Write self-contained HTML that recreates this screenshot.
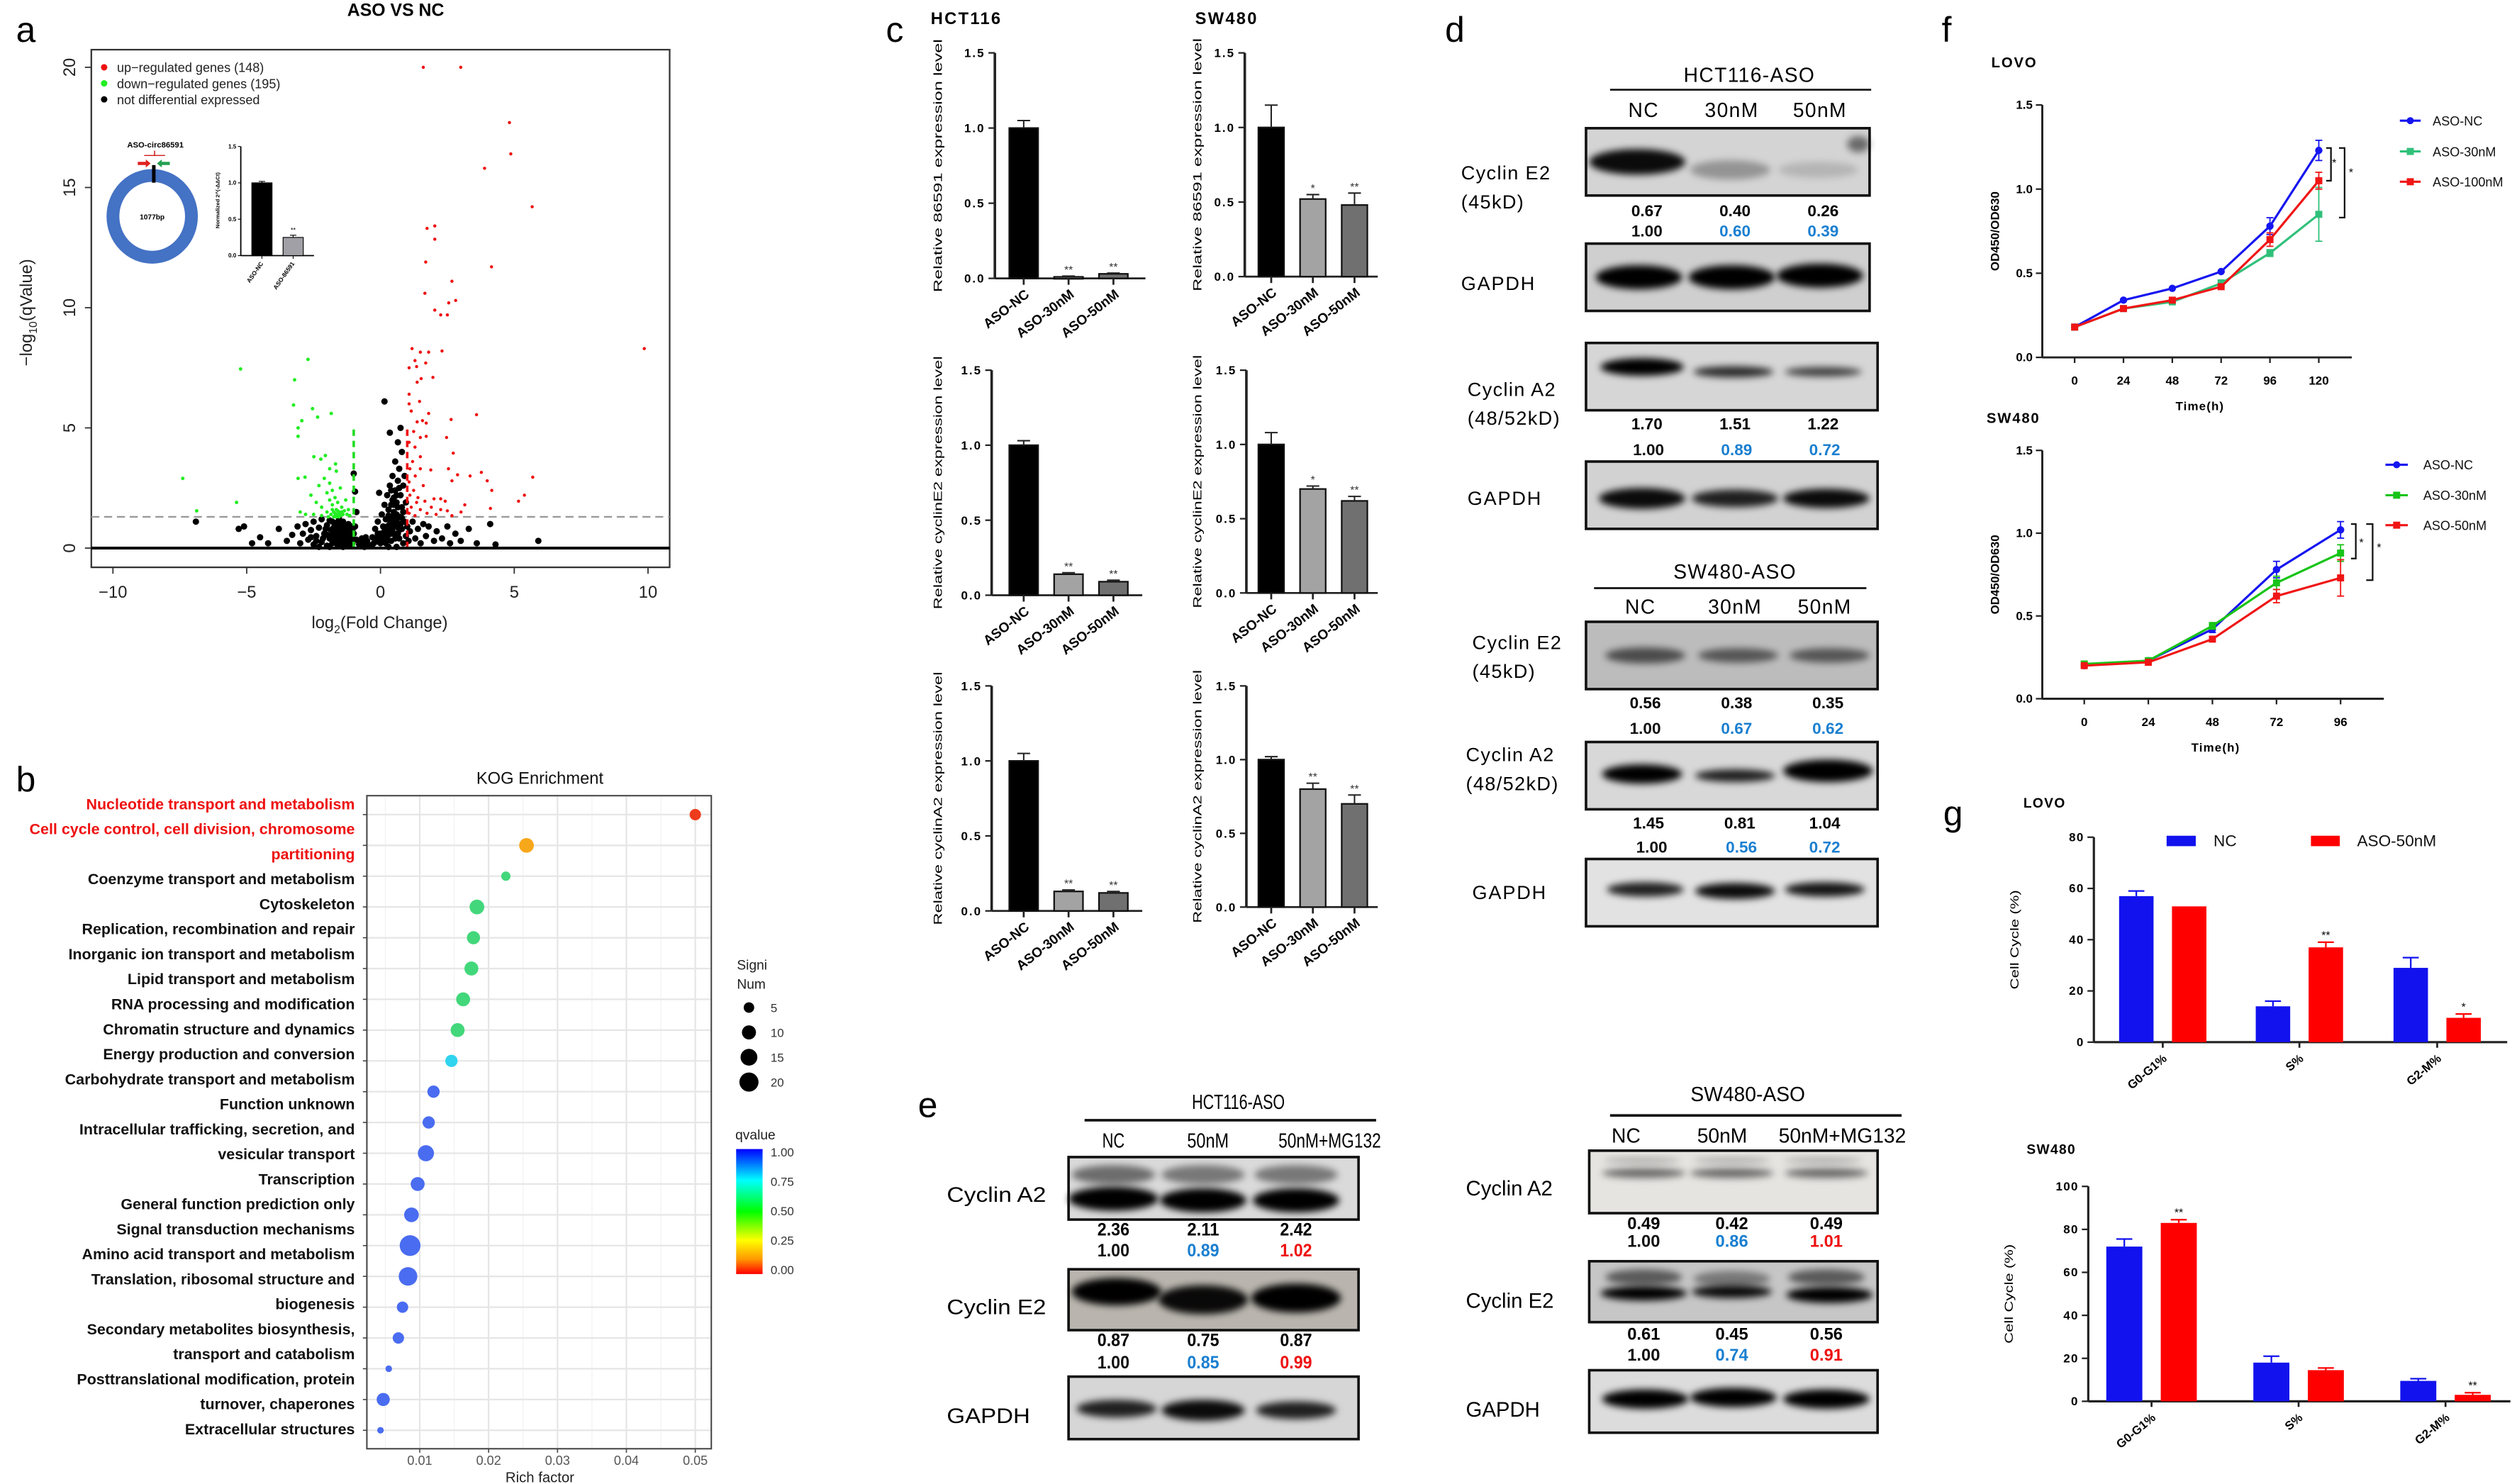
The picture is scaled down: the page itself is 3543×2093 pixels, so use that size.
<!DOCTYPE html>
<html><head><meta charset="utf-8">
<style>html,body{margin:0;padding:0;background:#fff}svg{display:block}text{font-family:"Liberation Sans",Arial,sans-serif}</style>
</head><body>
<svg id="fig" xmlns="http://www.w3.org/2000/svg" width="3543" height="2093" viewBox="0 0 1568 926" preserveAspectRatio="none">
<defs>
<filter id="blur" x="-50%" y="-80%" width="200%" height="260%"><feGaussianBlur stdDeviation="2.2"/></filter>
<linearGradient id="qgrad" x1="0" y1="1" x2="0" y2="0">
<stop offset="0" stop-color="#ff0000"/><stop offset="0.12" stop-color="#ff9900"/><stop offset="0.27" stop-color="#ffff00"/><stop offset="0.5" stop-color="#00ff00"/><stop offset="0.75" stop-color="#00ffff"/><stop offset="1" stop-color="#0000ff"/>
</linearGradient>
</defs>
<rect x="0" y="0" width="1568" height="926" fill="#fff"/>
</svg>
<script>
// ---------- DATA ----------
const volcanoXTicks=[-10,-5,0,5,10];
const volcanoYTicks=[0,5,10,15,20];
const upGenes=[[1.6,20],[3.0,20],[4.82,17.7],[4.87,16.4],[3.89,15.8],[5.67,14.2],[1.74,13.3],[2.03,13.4],[2.03,12.85],[1.69,11.9],[4.15,11.7],[2.67,11.1],[1.66,10.6],[2.81,10.3],[2.55,10.2],[2.03,9.9],[2.25,9.7],[2.5,9.7],[9.86,8.3],[1.18,8.3],[1.49,8.15],[1.8,8.15],[2.3,8.2],[1.29,7.8],[1.69,7.7],[1.07,7.5],[1.35,7.55],[1.96,7.1],[1.52,7.05],[1.37,6.9],[1.07,6.4],[1.46,6.1],[1.07,6.0],[1.15,5.7],[1.8,5.6],[3.59,5.55],[1.37,5.25],[1.57,5.3],[1.71,5.2],[2.64,5.35],[1.24,4.85],[1.49,4.6],[1.71,4.65],[2.47,4.6],[1.07,4.4],[1.29,4.2],[2.72,3.95],[1.49,3.8],[1.2,3.6],[3.77,3.15],[3.35,3.0],[2.88,3.05],[5.69,2.95],[1.49,3.3],[1.88,3.25],[2.54,3.3],[2.67,2.8],[3.99,2.8],[4.16,2.4],[5.38,2.2],[5.16,1.95],[4.11,1.65],[3.15,1.8],[1.07,2.75],[1.24,2.4],[1.4,2.1],[1.66,1.95],[2.0,2.05],[2.25,2.05],[2.42,1.95],[1.9,1.7],[2.25,1.6],[2.5,1.55],[1.15,1.7],[1.49,1.6],[1.07,1.45],[1.29,1.35],[1.74,1.45],[2.08,1.4],[2.67,1.35],[3.01,1.5],[1.1,2.2],[1.3,3.0],[1.6,2.6],[1.1,3.3],[1.35,1.9]];
const downGenes=[[-5.23,7.45],[-2.71,7.85],[-3.21,7.0],[-3.25,5.95],[-2.54,5.8],[-2.35,5.45],[-1.84,5.6],[-2.94,5.3],[-3.08,5.0],[-3.08,4.65],[-7.39,2.9],[-5.38,1.9],[-6.87,1.55],[-2.49,3.8],[-2.23,3.7],[-2.06,3.85],[-1.68,3.5],[-2.82,2.95],[-3.08,2.9],[-2.6,2.2],[-2.4,1.9],[-2.3,2.6],[-2.2,1.7],[-2.1,2.9],[-2.0,2.3],[-2.0,1.5],[-1.9,2.0],[-1.9,2.7],[-1.85,1.4],[-1.8,1.8],[-1.8,2.4],[-1.75,1.5],[-1.7,1.35],[-1.7,2.1],[-1.65,1.6],[-1.6,1.4],[-1.6,1.9],[-1.55,1.5],[-1.5,1.35],[-1.5,2.5],[-1.45,1.7],[-1.4,1.4],[-1.35,1.55],[-1.3,2.0],[-1.25,1.4],[-1.2,1.6],[-1.15,1.35],[-2.8,1.4],[-2.5,1.4],[-2.2,1.35],[-1.95,1.3],[-1.75,1.3],[-1.55,1.3],[-3.0,1.5],[-1.65,3.2],[-1.9,3.3],[-1.6,1.55],[-1.7,1.45],[-1.5,1.45],[-1.8,1.6],[-1.45,1.5],[-1.65,1.3]];
const notDiff=[[-6.9,1.1],[-5.3,0.8],[-5.1,0.9],[-4.8,0.2],[-4.5,0.45],[-4.2,0.2],[-3.8,0.8],[-3.5,0.3],[-3.3,0.55],[-3.1,0.9],[-3.0,0.2],[-2.9,0.6],[-2.8,1.0],[-2.7,0.35],[-2.6,0.75],[-2.5,0.15],[-2.5,1.1],[-2.4,0.5],[-2.3,0.85],[-2.2,0.25],[-2.2,1.2],[-2.1,0.6],[-2.0,0.95],[-2.0,0.1],[-1.9,0.4],[-1.9,1.15],[-1.85,0.75],[-1.8,0.2],[-1.75,0.55],[-1.7,1.0],[-1.7,0.3],[-1.65,0.8],[-1.6,0.1],[-1.6,0.6],[-1.55,1.2],[-1.5,0.4],[-1.5,0.9],[-1.45,0.2],[-1.4,0.7],[-1.4,1.1],[-1.35,0.45],[-1.3,0.15],[-1.3,0.9],[-1.25,0.6],[-1.2,0.3],[-1.2,1.0],[-1.15,0.75],[-1.1,0.45],[-1.05,0.2],[-1.0,0.6],[-1.0,3.1],[-0.95,2.35],[-0.9,1.5],[-0.9,0.35],[-0.8,0.15],[-0.7,0.4],[-0.6,0.2],[-0.5,0.3],[-0.4,0.1],[-0.3,0.45],[-0.25,0.2],[-0.2,0.8],[-0.15,0.4],[-0.1,1.1],[-0.05,0.25],[0,0.6],[0.05,1.4],[0.1,0.9],[0.1,0.3],[0.15,1.8],[0.2,0.5],[0.2,1.2],[0.25,2.2],[0.3,0.8],[0.3,1.6],[0.35,2.6],[0.4,0.3],[0.4,1.1],[0.45,2.0],[0.45,3.0],[0.5,0.6],[0.5,1.5],[0.55,2.4],[0.55,3.6],[0.6,0.9],[0.6,1.9],[0.65,2.8],[0.65,4.4],[0.7,0.4],[0.7,1.3],[0.7,3.3],[0.75,2.2],[0.75,5.0],[0.8,0.8],[0.8,1.7],[0.8,4.0],[0.85,2.6],[0.85,0.2],[0.9,1.1],[0.9,3.0],[0.95,0.5],[0.95,1.9],[1.0,0.9],[1.05,0.3],[1.1,0.7],[1.2,1.1],[1.3,0.4],[1.4,0.8],[1.5,0.2],[1.6,1.0],[1.7,0.5],[1.8,0.9],[2.0,0.3],[2.1,0.7],[2.3,0.4],[2.5,0.9],[2.6,0.2],[2.8,0.6],[3.0,0.3],[3.3,0.8],[3.6,0.2],[4.1,1.0],[4.3,0.15],[5.9,0.3],[0.15,6.1],[0.35,4.8],[-0.05,2.3],[-1.4,0.05],[-1.9,0.05],[-2.3,0.05],[0.3,0.05],[0.6,0.05],[-0.6,0.05],[-1.55,0.5],[-1.45,0.85],[-1.35,0.3],[-1.65,0.45],[-1.75,0.85],[-1.25,0.8],[0.25,0.35],[0.35,1.3],[0.45,0.7],[0.55,1.1],[0.15,0.7],[0.05,0.45],[-0.1,0.6],[0.65,0.6],[0.75,1.0],[0.4,1.8],[0.6,1.4],[0.5,2.1],[-1.15,0.15],[-1.6,0.35],[-1.8,1.1],[-2.0,0.55],[-1.3,0.55],[-1.1,0.9],[-1.5,0.65],[-1.45,1.0],[-1.6,0.8],[-1.7,0.65],[-1.35,0.75],[-1.25,0.35],[-1.2,0.55],[-1.55,0.25],[-1.4,0.5],[-1.65,1.05],[-1.85,0.5],[-2.05,0.8],[-2.15,0.4],[-1.05,0.75],[-1.0,0.35],[-0.95,0.9],[0.3,0.55],[0.4,0.6],[0.5,0.9],[0.6,1.15],[0.35,1.0],[0.45,1.3],[0.25,0.9],[0.55,0.4],[0.65,1.7],[0.7,2.5],[0.5,1.8],[0.4,2.4],[0.6,2.2],[0.3,1.35],[0.2,0.2],[0.7,0.75],[0.8,1.25],[0.85,1.5],[-0.3,0.15],[-0.75,0.25],[-0.55,0.45],[0.0,0.2],[-2.4,0.3],[-2.6,0.45]];
const insetGroups=['ASO-NC','ASO-86591'];
const insetValues=[1.0,0.25];
const insetErr=[0.02,0.03];

const kogLabels=['Nucleotide transport and metabolism','Cell cycle control, cell division, chromosome','partitioning','Coenzyme transport and metabolism','Cytoskeleton','Replication, recombination and repair','Inorganic ion transport and metabolism','Lipid transport and metabolism','RNA processing and modification','Chromatin structure and dynamics','Energy production and conversion','Carbohydrate transport and metabolism','Function unknown','Intracellular trafficking, secretion, and','vesicular transport','Transcription','General function prediction only','Signal transduction mechanisms','Amino acid transport and metabolism','Translation, ribosomal structure and','biogenesis','Secondary metabolites biosynthesis,','transport and catabolism','Posttranslational modification, protein','turnover, chaperones','Extracellular structures'];
const kogRich=[0.050,0.0255,0.0225,0.0183,0.0178,0.0175,0.0163,0.0155,0.0146,0.0120,0.0113,0.0109,0.0097,0.0088,0.0086,0.0083,0.0075,0.0069,0.0055,0.0047,0.0043];
const kogCount=[6,10,4,10,8,9,9,9,7,7,7,12,9,10,20,16,6,6,2,8,2];
const kogQ=[0.0,0.2,0.55,0.55,0.55,0.55,0.55,0.55,0.72,0.95,0.95,0.95,0.95,0.95,0.95,0.95,0.95,0.95,0.95,0.95,0.95];
const kogXTicks=[0.01,0.02,0.03,0.04,0.05];
const kogSizeLegend=[5,10,15,20];
const kogQTicks=[1.00,0.75,0.50,0.25,0.00];

const qpcrGroups=['ASO-NC','ASO-30nM','ASO-50nM'];
const qpcrTicks=[0,0.5,1.0,1.5];
const hct86591=[1.0,0.01,0.03], hct86591Err=[0.05,0.005,0.005], hct86591Sig=['','**','**'];
const hctE2=[1.0,0.14,0.09], hctE2Err=[0.03,0.01,0.01], hctE2Sig=['','**','**'];
const hctA2=[1.0,0.13,0.12], hctA2Err=[0.05,0.01,0.01], hctA2Sig=['','**','**'];
const sw86591=[1.0,0.52,0.48], sw86591Err=[0.15,0.03,0.08], sw86591Sig=['','*','**'];
const swE2=[1.0,0.70,0.62], swE2Err=[0.08,0.02,0.03], swE2Sig=['','*','**'];
const swA2=[1.0,0.80,0.70], swA2Err=[0.02,0.04,0.06], swA2Sig=['','**','**'];

const lovoTimes=[0,24,48,72,96,120];
const lovoNC=[0.18,0.34,0.41,0.51,0.78,1.23], lovoNCErr=[0.01,0.01,0.01,0.01,0.05,0.06];
const lovo30=[0.18,0.29,0.33,0.44,0.62,0.85], lovo30Err=[0.01,0.01,0.01,0.02,0.02,0.16];
const lovo100=[0.18,0.29,0.34,0.42,0.70,1.05], lovo100Err=[0.01,0.01,0.01,0.01,0.04,0.05];
const swTimes=[0,24,48,72,96];
const swNC=[0.20,0.23,0.42,0.78,1.02], swNCErr=[0.01,0.01,0.02,0.05,0.05];
const sw30=[0.21,0.23,0.44,0.70,0.88], sw30Err=[0.01,0.01,0.02,0.04,0.05];
const sw50=[0.20,0.22,0.36,0.62,0.73], sw50Err=[0.01,0.01,0.01,0.04,0.11];
const odTicks=[0,0.5,1.0,1.5];

const ccPhases=['G0-G1%','S%','G2-M%'];
const lovoCcNC=[57,14,29], lovoCcNCErr=[2,2,4];
const lovoCcASO=[53,37,9.5], lovoCcASOErr=[0,2,1.5], lovoCcSig=['','**','*'];
const swCcNC=[72,18,9.5], swCcNCErr=[3.5,3,1];
const swCcASO=[83,14.5,3], swCcASOErr=[1.5,1,1], swCcSig=['**','','**'];
const lovoCcTicks=[0,20,40,60,80];
const swCcTicks=[0,20,40,60,80,100];

// ---------- HELPERS ----------
const NS='http://www.w3.org/2000/svg';
const svg=document.getElementById('fig');
function el(tag,parent){const e=document.createElementNS(NS,tag);(parent||svg).appendChild(e);return e;}
function set(e,o){for(const k in o)e.setAttribute(k,o[k]);return e;}
function grp(name,parent){const g=el('g',parent);


return g;}
function T(parent,name,s,x,y,size,o){const e=el('text',parent);set(e,{x:x,y:y,'font-size':size});if(o)set(e,o);e.textContent=s;


return e;}
function L(parent,x1,y1,x2,y2,stroke,w,extra){const e=el('line',parent);set(e,{x1:x1,y1:y1,x2:x2,y2:y2,stroke:stroke,'stroke-width':w});if(extra)set(e,extra);return e;}
function R(parent,x,y,w,h,fill,extra){const e=el('rect',parent);set(e,{x:x,y:y,width:w,height:h,fill:fill});if(extra)set(e,extra);return e;}

[['a',10,26],['b',10,494],['c',553,26],['d',902,26],['e',573,697],['f',1212,26],['g',1213,515]].forEach(p=>{
 T(svg,'panel-label-'+p[0],p[0],p[1],p[2],22,{'font-family':'Liberation Serif, serif'});
});

// ---------- PANEL A: volcano ----------
(function(){
const g=grp('volcano-plot');
const vx=v=>237.5+16.7*v, vy=v=>342-15*v;
T(g,'volcano-title','ASO VS NC',247,10,11,{'font-weight':'bold','text-anchor':'middle'});
const box=R(g,57,31,361,323,'none',{stroke:'#333','stroke-width':1});

volcanoXTicks.forEach(v=>{L(g,vx(v),354,vx(v),358,'#333',0.8);T(g,'x-tick-label',String(v).replace('-','−'),vx(v),373,10.5,{'text-anchor':'middle',fill:'#222'});});
volcanoYTicks.forEach(v=>{L(g,53,vy(v),57,vy(v),'#333',0.8);T(g,'y-tick-label',String(v),46,vy(v)+1,10.5,{'text-anchor':'middle',transform:`rotate(-90 46 ${vy(v)})`,fill:'#222'});});
const yt=T(g,'y-axis-title','',20,195,10.5,{'text-anchor':'middle',transform:'rotate(-90 20 195)',fill:'#222'});
const s1=el('tspan',yt);s1.textContent='−log';const s2=el('tspan',yt);set(s2,{'font-size':7,dy:3});s2.textContent='10';const s3=el('tspan',yt);set(s3,{dy:-3});s3.textContent='(qValue)';
const xt=T(g,'x-axis-title','',237,392,10.5,{'text-anchor':'middle',fill:'#222'});
const a1=el('tspan',xt);a1.textContent='log';const a2=el('tspan',xt);set(a2,{'font-size':7,dy:3});a2.textContent='2';const a3=el('tspan',xt);set(a3,{dy:-3});a3.textContent='(Fold Change)';
L(g,57,vy(1.3),418,vy(1.3),'#999',1,{'stroke-dasharray':'5,3'});
notDiff.forEach(p=>{const c=el('circle',g);set(c,{cx:vx(p[0]),cy:vy(p[1]),r:2.0,fill:'#000'});

});
downGenes.forEach(p=>{const c=el('circle',g);set(c,{cx:vx(p[0]),cy:vy(p[1]),r:1.1,fill:'#22ee22'});

});
upGenes.forEach(p=>{const c=el('circle',g);set(c,{cx:vx(p[0]),cy:vy(p[1]),r:1.0,fill:'#ee1111'});

});
L(g,vx(-1),vy(0),vx(-1),vy(5),'#22dd22',1.6,{'stroke-dasharray':'4,3'});
L(g,vx(1),vy(0),vx(1),vy(5),'#ee1111',1.6,{'stroke-dasharray':'4,3'});
L(g,57,vy(0),418,vy(0),'#000',1.8);
const lg=grp('volcano-legend',g);
[['#ee1111','up−regulated genes (148)'],['#22ee22','down−regulated genes (195)'],['#000','not differential expressed']].forEach((d,i)=>{
 const c=el('circle',lg);set(c,{cx:65,cy:42+i*10,r:2,fill:d[0]});
 T(lg,'legend-entry',d[1],73,45+i*10,8,{fill:'#222'});
});
const ic=grp('circrna-diagram',g);
T(ic,'circ-name','ASO-circ86591',97,92,5,{'font-weight':'bold','text-anchor':'middle'});
const ring=el('ellipse',ic);set(ring,{cx:95,cy:135,rx:24.5,ry:25.5,fill:'#fff',stroke:'#4472c4','stroke-width':8});
L(ic,96,103,96,114,'#000',2.2);
L(ic,90,97,103,97,'#c00',0.6);L(ic,96.5,94,96.5,97,'#c00',0.6);
const ar=el('path',ic);set(ar,{d:'M86,101 h5 v-1.5 l3,2.5 l-3,2.5 v-1.5 h-5z',fill:'#e02020'});
const ag=el('path',ic);set(ag,{d:'M106,101 h-5 v-1.5 l-3,2.5 l3,2.5 v-1.5 h5z',fill:'#22a050'});
T(ic,'circ-length','1077bp',95,137,4.5,{'font-weight':'bold','text-anchor':'middle'});
const ib=grp('inset-bar-chart',g);
const iy=v=>159.5-45.4*v;
L(ib,150.3,iy(1.5),150.3,iy(0),'#000',0.8);L(ib,150.3,iy(0),196,iy(0),'#000',0.8);
[0,0.5,1.0,1.5].forEach(v=>{L(ib,148.5,iy(v),150.3,iy(v),'#000',0.5);T(ib,'inset-tick',v.toFixed(1),147.5,iy(v)+1.2,3.6,{'text-anchor':'end','font-weight':'bold'});});
T(ib,'inset-y-title','Normalized 2^(-ΔΔCt)',137,125,3.4,{'text-anchor':'middle',transform:'rotate(-90 137 125)','font-weight':'bold'});
const icx=[163.5,183];const icol=['#000','#a0a0a6'];
insetValues.forEach((v,i)=>{const b=R(ib,icx[i]-6.3,iy(v),12.6,iy(0)-iy(v),icol[i],{stroke:'#000','stroke-width':0.5});


L(ib,icx[i],iy(v),icx[i],iy(v+insetErr[i]),'#000',0.5);L(ib,icx[i]-2,iy(v+insetErr[i]),icx[i]+2,iy(v+insetErr[i]),'#000',0.5);
L(ib,icx[i],iy(0),icx[i],iy(0)+2,'#000',0.5);
T(ib,'inset-x-label',insetGroups[i],icx[i]+1,iy(0)+5,3.8,{'text-anchor':'end','font-weight':'bold',transform:`rotate(-55 ${icx[i]+1} ${iy(0)+5})`});
});
T(ib,'inset-significance','**',183,iy(0.3)-1,4,{'text-anchor':'middle'});
})();

// ---------- PANEL B: KOG ----------
(function(){
const g=grp('kog-enrichment-plot');
const kx=v=>219+4300*v, ky=i=>508.3+i*19.21;
const x0=229,x1=444,y0=496.5,y1=904;
T(g,'kog-title','KOG Enrichment',337,489,10.5,{'text-anchor':'middle',fill:'#111'});
R(g,x0,y0,x1-x0,y1-y0,'#fff');
[0.005,0.015,0.025,0.035,0.045].forEach(v=>L(g,kx(v),y0,kx(v),y1,'#f3f3f3',0.6));
kogXTicks.forEach(v=>L(g,kx(v),y0,kx(v),y1,'#e6e6e6',1));
kogRich.forEach((v,i)=>L(g,x0,ky(i),x1,ky(i),'#e6e6e6',1));
R(g,x0,y0,x1-x0,y1-y0,'none',{stroke:'#444','stroke-width':0.9});
kogXTicks.forEach(v=>{L(g,kx(v),y1,kx(v),y1+2.5,'#444',0.7);T(g,'kog-x-tick',String(v),kx(v),914,8,{'text-anchor':'middle',fill:'#555'});});
kogRich.forEach((v,i)=>L(g,x0-2.5,ky(i),x0,ky(i),'#444',0.7));
T(g,'kog-x-title','Rich factor',337,925,9,{'text-anchor':'middle',fill:'#222'});
kogLabels.forEach((s,i)=>{T(g,'kog-category-label',s,221.5,505+i*15.6,9.5,{'text-anchor':'end','font-weight':'bold',fill:i<3?'#ee1111':'#111'});});
const stops=[[0,[238,59,28]],[0.2,[247,167,26]],[0.55,[66,215,122]],[0.72,[47,212,238]],[0.95,[74,108,240]],[1,[60,80,240]]];
function qcol(q){for(let k=0;k<stops.length-1;k++){const a=stops[k],b=stops[k+1];if(q<=b[0]){const t=(q-a[0])/(b[0]-a[0]);return 'rgb('+a[1].map((c,j)=>Math.round(c+(b[1][j]-c)*t)).join(',')+')';}}return 'rgb(60,80,240)';}
kogRich.forEach((v,i)=>{const c=el('circle',g);set(c,{cx:kx(v),cy:ky(i),r:1.45*Math.sqrt(kogCount[i]),fill:qcol(kogQ[i])});

});
const lg=grp('kog-size-legend',g);
T(lg,'size-legend-title','Signi',460,605,8.5,{fill:'#222'});T(lg,'size-legend-title','Num',460,617,8.5,{fill:'#222'});
kogSizeLegend.forEach((n,i)=>{const c=el('circle',lg);set(c,{cx:467.5,cy:628.7+i*15.5,r:1.2*Math.sqrt(n)+0.6,fill:'#000'});T(lg,'size-legend-label',String(n),481,631.5+i*15.5,7.5,{fill:'#333'});});
const cg=grp('kog-color-legend',g);
T(cg,'qvalue-title','qvalue',459,711,8.5,{fill:'#222'});
R(cg,459.5,717,16.5,78,'url(#qgrad)');
kogQTicks.forEach((q,i)=>{T(cg,'qvalue-tick',q.toFixed(2),481,721.5+i*18.4,7.5,{fill:'#333'});});
})();

// ---------- PANEL C: qPCR bars ----------
function qpcr(name,ax,xEnd,y15,y0,centers,vals,errs,sig,ytitle,titleX,bw){
 const g=grp(name);
 const ys=v=>y0-(y0-y15)*v/1.5;
 L(g,ax,y15,ax,y0,'#222',1.6);L(g,ax,y0,xEnd,y0,'#222',1.2);
 qpcrTicks.forEach(v=>{L(g,ax-4,ys(v),ax,ys(v),'#222',1);T(g,'y-tick-label',v.toFixed(1),ax-6,ys(v)+2.7,7.5,{'text-anchor':'end','font-weight':'bold','letter-spacing':'0.9'});});
 T(g,'y-axis-title',ytitle,titleX,(y15+y0)/2,7.2,{'text-anchor':'middle',transform:`rotate(-90 ${titleX} ${(y15+y0)/2})`,textLength:158,lengthAdjust:'spacingAndGlyphs'});
 const cols=['#000','#a3a3a3','#707070'];
 vals.forEach((v,i)=>{
  const b=R(g,centers[i]-bw/2,ys(v),bw,Math.max(ys(0)-ys(v),1.2),cols[i],{stroke:'#111','stroke-width':1});
  
  
  const et=ys(v+errs[i]);L(g,centers[i],ys(v),centers[i],et,'#222',0.9);L(g,centers[i]-4,et,centers[i]+4,et,'#222',0.9);
  if(sig[i])T(g,'significance',sig[i],centers[i],et-1.5,7,{'text-anchor':'middle',fill:'#333'});
  L(g,centers[i],y0,centers[i],y0+4,'#222',1.2);
  T(g,'x-tick-label',qpcrGroups[i],centers[i]+4,y0+11,8.5,{'text-anchor':'end','font-weight':'bold',transform:`rotate(-38 ${centers[i]+4} ${y0+11})`});
 });
}
T(svg,'hct116-title','HCT116',581,15,10.5,{'font-weight':'bold','letter-spacing':'1'});
T(svg,'sw480-title','SW480',746,15,10.5,{'font-weight':'bold','letter-spacing':'1'});
const hc=[639,667,695], sc=[793.5,819.5,845.5];
qpcr('hct116-86591-bars',621,715,33,173.7,hc,hct86591,hct86591Err,hct86591Sig,'Relative 86591 expression level',588,18);
qpcr('hct116-cyclinE2-bars',619,713,231,371.4,hc,hctE2,hctE2Err,hctE2Sig,'Relative cyclinE2 expression level',588,18);
qpcr('hct116-cyclinA2-bars',619,713,428,568.4,hc,hctA2,hctA2Err,hctA2Sig,'Relative cyclinA2 expression level',588,18);
qpcr('sw480-86591-bars',777,860,33,172.6,sc,sw86591,sw86591Err,sw86591Sig,'Relative 86591 expression level',750,16);
qpcr('sw480-cyclinE2-bars',778,860,231,370,sc,swE2,swE2Err,swE2Sig,'Relative cyclinE2 expression level',750,16);
qpcr('sw480-cyclinA2-bars',778,860,428,566,sc,swA2,swA2Err,swA2Sig,'Relative cyclinA2 expression level',750,16);

// ---------- BLOTS ----------
function blot(parent,name,x,y,w,h,bg,bands){
 const g=grp(name,parent);
 R(g,x,y,w,h,bg);
 bands.forEach(b=>{const e=el('ellipse',g);set(e,{cx:b[0],cy:b[1],rx:b[2]/2,ry:b[3]/2,fill:'#000','fill-opacity':b[4],filter:'url(#blur)'});});
 R(g,x,y,w,h,'none',{stroke:'#111','stroke-width':1.6});
 return g;
}
(function(){
const g=grp('western-blot-panel-d');
const cx=[1026,1081,1136];
T(g,'blot-group-title','HCT116-ASO',1092,51,12.5,{'text-anchor':'middle','letter-spacing':'0.6'});
L(g,1005,56,1168,56,'#111',1.2);
['NC','30nM','50nM'].forEach((s,i)=>T(g,'lane-label',s,cx[i],73,12.5,{'text-anchor':'middle','letter-spacing':'0.6'}));
blot(g,'hct116-cyclinE2-blot',990,80,177,42,'#d4d4d4',[[1022,101,60,16,0.95],[1080,106,50,12,0.3],[1135,106,50,10,0.15],[1160,90,14,10,0.5]]);
T(g,'protein-label','Cyclin E2',912,112,12,{'letter-spacing':'0.6'});T(g,'protein-size','(45kD)',912,130,12,{'letter-spacing':'0.6'});
['0.67','0.40','0.26'].forEach((s,i)=>T(g,'band-intensity',s,cx[i]+2,135,10,{'text-anchor':'middle','font-weight':'bold'}));
['1.00','0.60','0.39'].forEach((s,i)=>T(g,'relative-intensity',s,cx[i]+2,147.5,10,{'text-anchor':'middle','font-weight':'bold',fill:i?'#1a7fd0':'#111'}));
blot(g,'hct116-gapdh-blot-1',990,152,177,42,'#cfcfcf',[[1023,173,54,15,1],[1081,173,54,15,1],[1136,172,54,15,1]]);
T(g,'protein-label','GAPDH',912,181,12,{'letter-spacing':'0.8'});
blot(g,'hct116-cyclinA2-blot',990,214,182,42,'#d6d6d6',[[1025,229,52,11,1],[1082,232,50,7,0.8],[1138,232,48,6,0.7]]);
T(g,'protein-label','Cyclin A2',916,247,12,{'letter-spacing':'0.6'});T(g,'protein-size','(48/52kD)',916,265,12,{'letter-spacing':'0.6'});
['1.70','1.51','1.22'].forEach((s,i)=>T(g,'band-intensity',s,cx[i]+2,268,10,{'text-anchor':'middle','font-weight':'bold'}));
['1.00','0.89','0.72'].forEach((s,i)=>T(g,'relative-intensity',s,cx[i]+3,284,10,{'text-anchor':'middle','font-weight':'bold',fill:i?'#1a7fd0':'#111'}));
blot(g,'hct116-gapdh-blot-2',990,288,182,42,'#d2d2d2',[[1025,311,54,13,0.95],[1083,311,54,11,0.85],[1140,311,54,12,0.95]]);
T(g,'protein-label','GAPDH',916,315,12,{'letter-spacing':'0.8'});
T(g,'blot-group-title','SW480-ASO',1083,361,12.5,{'text-anchor':'middle','letter-spacing':'0.6'});
L(g,995,367,1165,367,'#111',1.2);
['NC','30nM','50nM'].forEach((s,i)=>T(g,'lane-label',s,[1024,1083,1139][i],383,12.5,{'text-anchor':'middle','letter-spacing':'0.6'}));
blot(g,'sw480-cyclinE2-blot',990,388,182,42,'#bcbcbc',[[1027,409,50,10,0.6],[1085,409,50,9,0.55],[1142,409,50,9,0.55]]);
T(g,'protein-label','Cyclin E2',919,405,12,{'letter-spacing':'0.6'});T(g,'protein-size','(45kD)',919,423,12,{'letter-spacing':'0.6'});
['0.56','0.38','0.35'].forEach((s,i)=>T(g,'band-intensity',s,[1027,1084,1141][i],442,10,{'text-anchor':'middle','font-weight':'bold'}));
['1.00','0.67','0.62'].forEach((s,i)=>T(g,'relative-intensity',s,[1027,1084,1141][i],458,10,{'text-anchor':'middle','font-weight':'bold',fill:i?'#1a7fd0':'#111'}));
blot(g,'sw480-cyclinA2-blot',990,463,182,42,'#d8d8d8',[[1025,483,50,12,1],[1083,484,50,8,0.85],[1141,481,56,14,1]]);
T(g,'protein-label','Cyclin A2',915,475,12,{'letter-spacing':'0.6'});T(g,'protein-size','(48/52kD)',915,493,12,{'letter-spacing':'0.6'});
['1.45','0.81','1.04'].forEach((s,i)=>T(g,'band-intensity',s,[1029,1086,1139][i],517,10,{'text-anchor':'middle','font-weight':'bold'}));
['1.00','0.56','0.72'].forEach((s,i)=>T(g,'relative-intensity',s,[1031,1087,1139][i],532,10,{'text-anchor':'middle','font-weight':'bold',fill:i?'#1a7fd0':'#111'}));
blot(g,'sw480-gapdh-blot',990,536,182,42,'#e2e2e2',[[1027,555,48,9,0.85],[1083,556,50,10,0.95],[1139,555,50,9,0.9]]);
T(g,'protein-label','GAPDH',919,561,12,{'letter-spacing':'0.8'});
})();
(function(){
const g=grp('western-blot-panel-e');
const cx=[695,751,809];
T(g,'blot-group-title','HCT116-ASO',773,692,12.5,{'text-anchor':'middle',textLength:58,lengthAdjust:'spacingAndGlyphs'});
L(g,677,699,859,699,'#111',1.6);
T(g,'lane-label','NC',695,716,12.5,{'text-anchor':'middle',textLength:14,lengthAdjust:'spacingAndGlyphs'});
T(g,'lane-label','50nM',754,716,12.5,{'text-anchor':'middle',textLength:26,lengthAdjust:'spacingAndGlyphs'});
T(g,'lane-label','50nM+MG132',830,716,12.5,{'text-anchor':'middle',textLength:64,lengthAdjust:'spacingAndGlyphs'});
blot(g,'hct116-cyclinA2-mg132-blot',667,722,181,39,'#dadada',[[695,733,52,12,0.5],[751,733,52,12,0.45],[809,733,52,12,0.45],[695,748,56,15,1],[751,749,54,15,1],[809,749,54,15,1]]);
T(g,'protein-label','Cyclin A2',591,750,13,{textLength:62,lengthAdjust:'spacingAndGlyphs'});
['2.36','2.11','2.42'].forEach((s,i)=>T(g,'band-intensity',s,cx[i],771,11,{'text-anchor':'middle','font-weight':'bold',textLength:20,lengthAdjust:'spacingAndGlyphs'}));
['1.00','0.89','1.02'].forEach((s,i)=>T(g,'relative-intensity',s,cx[i],784,11,{'text-anchor':'middle','font-weight':'bold',fill:['#111','#1a7fd0','#ee1111'][i],textLength:20,lengthAdjust:'spacingAndGlyphs'}));
blot(g,'hct116-cyclinE2-mg132-blot',667,792,181,38,'#b9b5ae',[[697,806,56,17,1],[751,811,56,18,0.95],[809,810,56,18,1]]);
T(g,'protein-label','Cyclin E2',591,820,13,{textLength:62,lengthAdjust:'spacingAndGlyphs'});
['0.87','0.75','0.87'].forEach((s,i)=>T(g,'band-intensity',s,cx[i],840,11,{'text-anchor':'middle','font-weight':'bold',textLength:20,lengthAdjust:'spacingAndGlyphs'}));
['1.00','0.85','0.99'].forEach((s,i)=>T(g,'relative-intensity',s,cx[i],854,11,{'text-anchor':'middle','font-weight':'bold',fill:['#111','#1a7fd0','#ee1111'][i],textLength:20,lengthAdjust:'spacingAndGlyphs'}));
blot(g,'hct116-gapdh-mg132-blot',667,859,181,39,'#d6d6d6',[[697,879,50,11,0.85],[751,880,52,13,0.95],[809,880,50,11,0.85]]);
T(g,'protein-label','GAPDH',591,888,13,{textLength:52,lengthAdjust:'spacingAndGlyphs'});
const rx=[1026,1081,1140];
T(g,'blot-group-title','SW480-ASO',1091,687,12.5,{'text-anchor':'middle'});
L(g,1005,696,1187,696,'#111',1.6);
['NC','50nM','50nM+MG132'].forEach((s,i)=>T(g,'lane-label',s,[1015,1075,1150][i],713,12.5,{'text-anchor':'middle'}));
blot(g,'sw480-cyclinA2-mg132-blot',992,718,180,39,'#e6e4e1',[[1025,724,48,3,0.3],[1081,724,48,3,0.3],[1138,724,48,3,0.3],[1026,732,52,6,0.55],[1081,732,52,6,0.55],[1140,732,52,6,0.55]]);
T(g,'protein-label','Cyclin A2',915,746,13);
['0.49','0.42','0.49'].forEach((s,i)=>T(g,'band-intensity',s,rx[i],767,10.5,{'text-anchor':'middle','font-weight':'bold'}));
['1.00','0.86','1.01'].forEach((s,i)=>T(g,'relative-intensity',s,rx[i],778,10.5,{'text-anchor':'middle','font-weight':'bold',fill:['#111','#1a7fd0','#ee1111'][i]}));
blot(g,'sw480-cyclinE2-mg132-blot',992,787,180,38,'#c6c6c6',[[1026,797,48,10,0.55],[1081,798,48,10,0.4],[1140,797,48,10,0.55],[1026,807,54,9,1],[1081,806,50,8,0.95],[1142,808,54,10,1]]);
T(g,'protein-label','Cyclin E2',915,816,13);
['0.61','0.45','0.56'].forEach((s,i)=>T(g,'band-intensity',s,rx[i],836,10.5,{'text-anchor':'middle','font-weight':'bold'}));
['1.00','0.74','0.91'].forEach((s,i)=>T(g,'relative-intensity',s,rx[i],849,10.5,{'text-anchor':'middle','font-weight':'bold',fill:['#111','#1a7fd0','#ee1111'][i]}));
blot(g,'sw480-gapdh-mg132-blot',992,855,180,39,'#dcdcdc',[[1027,873,54,12,1],[1082,872,54,12,1],[1140,873,54,12,1]]);
T(g,'protein-label','GAPDH',915,884,13);
})();

// ---------- PANEL F: growth curves ----------
function growth(name,title,tx,ty,times,series,fx,fy,ax,xEnd,legendX,legendY,textX,brackets){
 const g=grp(name);
 T(g,'growth-title',title,tx,ty,9,{'font-weight':'bold','letter-spacing':'0.8'});
 L(g,ax,fy(1.5),ax,fy(0),'#222',1.3);L(g,ax,fy(0),xEnd,fy(0),'#222',1.3);
 odTicks.forEach(v=>{L(g,ax-4,fy(v),ax,fy(v),'#222',1);T(g,'y-tick-label',v.toFixed(1),ax-6,fy(v)+2.5,7.5,{'text-anchor':'end','font-weight':'bold'});});
 times.forEach(t=>{L(g,fx(t),fy(0),fx(t),fy(0)+3.5,'#222',1);T(g,'x-tick-label',String(t),fx(t),fy(0)+17,7.5,{'text-anchor':'middle','font-weight':'bold'});});
 const mid=(fx(times[0])+fx(times[times.length-1]))/2+2;
 T(g,'x-axis-title','Time(h)',mid,fy(0)+33,7.5,{'text-anchor':'middle','font-weight':'bold','letter-spacing':'0.5'});
 const ym=(fy(0)+fy(1.5))/2;
 T(g,'y-axis-title','OD450/OD630',ax-27,ym,7.5,{'text-anchor':'middle','font-weight':'bold',transform:`rotate(-90 ${ax-27} ${ym})`});
 series.forEach((s,si)=>{
  const sg=grp('series-'+s.name.toLowerCase(),g);
  const pl=el('polyline',sg);set(pl,{points:s.vals.map((v,i)=>fx(times[i])+','+fy(v)).join(' '),fill:'none',stroke:s.color,'stroke-width':1.4});
  s.vals.forEach((v,i)=>{
   const x=fx(times[i]),y=fy(v),e=s.errs[i];
   if(e>0.015){L(sg,x,fy(v-e),x,fy(v+e),s.color,0.8);L(sg,x-2.2,fy(v+e),x+2.2,fy(v+e),s.color,0.8);L(sg,x-2.2,fy(v-e),x+2.2,fy(v-e),s.color,0.8);}
   let m;
   if(s.marker==='circle'){m=el('circle',sg);set(m,{cx:x,cy:y,r:2.3,fill:s.color});}
   else{m=R(sg,x-2.2,y-2.2,4.4,4.4,s.color);}
   
   
  });
  const ly=legendY[si];
  L(g,legendX[0],ly,legendX[1],ly,s.color,1.4);
  if(s.marker==='circle'){const c=el('circle',g);set(c,{cx:(legendX[0]+legendX[1])/2,cy:ly,r:2.2,fill:s.color});}
  else R(g,(legendX[0]+legendX[1])/2-2.2,ly-2.2,4.4,4.4,s.color);
  T(g,'legend-entry',s.name,textX,ly+3,8,{fill:'#111'});
 });
 brackets.forEach(b=>{
  const p=el('path',g);set(p,{d:`M${b[0]},${b[1]} h${b[2]} V${b[3]} h${-b[2]}`,fill:'none',stroke:'#111','stroke-width':1});
  T(g,'significance','*',b[4],b[5],7,{'text-anchor':'middle'});
 });
}
(function(){
const fx=t=>1295+t*(152.4/120), fy=v=>223-v*105;
growth('lovo-growth-curve','LOVO',1243,42,lovoTimes,[
 {name:'ASO-NC',vals:lovoNC,errs:lovoNCErr,color:'#1515f0',marker:'circle'},
 {name:'ASO-30nM',vals:lovo30,errs:lovo30Err,color:'#2fc07a',marker:'square'},
 {name:'ASO-100nM',vals:lovo100,errs:lovo100Err,color:'#f01515',marker:'square'}],
 fx,fy,1274.8,1468,[1498,1511],[75.3,94.5,113.4],1518.5,
 [[1452,fy(1.23)-1.5,3,fy(1.05),1457,104],[1460,fy(1.23)-1.5,3.5,fy(0.85)+2,1467.5,110]]);
})();
(function(){
const fx=t=>1301+t*(160/96), fy=v=>436-v*103.3;
growth('sw480-growth-curve','SW480',1240,264,swTimes,[
 {name:'ASO-NC',vals:swNC,errs:swNCErr,color:'#1515f0',marker:'circle'},
 {name:'ASO-30nM',vals:sw30,errs:sw30Err,color:'#18c418',marker:'square'},
 {name:'ASO-50nM',vals:sw50,errs:sw50Err,color:'#f01515',marker:'square'}],
 fx,fy,1274.8,1488,[1489,1503],[290,309,327.7],1512.6,
 [[1467.5,327,3,348.5,1474,341],[1477,327,4,362,1485,344]]);
})();

// ---------- PANEL G: cell cycle ----------
function cellCycle(name,title,tx,ty,ax,xEnd,yTop,y0,ymax,ticks,centers,nc,ncErr,aso,asoErr,sig,bw,off,legend){
 const g=grp(name);
 const ys=v=>y0-(y0-yTop)*v/ymax;
 T(g,'cell-cycle-title',title,tx,ty,8.5,{'font-weight':'bold','letter-spacing':'0.6'});
 L(g,ax,yTop,ax,y0,'#222',1.4);L(g,ax,y0,xEnd,y0,'#222',1.4);
 ticks.forEach(v=>{L(g,ax-4,ys(v),ax,ys(v),'#222',1);T(g,'y-tick-label',String(v),ax-6,ys(v)+2.5,7.5,{'text-anchor':'end','font-weight':'bold','letter-spacing':'0.6'});});
 const ym=(yTop+y0)/2;
 T(g,'y-axis-title','Cell Cycle (%)',ax-47,ym,7.5,{'text-anchor':'middle',transform:`rotate(-90 ${ax-47} ${ym})`,textLength:62,lengthAdjust:'spacingAndGlyphs'});
 centers.forEach((c,i)=>{
  [[nc,ncErr,'#1212ee',-off,''],[aso,asoErr,'#ff0000',off,sig[i]]].forEach(d=>{
   const x=c+d[3],v=d[0][i],e=d[1][i];
   const b=R(g,x-bw/2,ys(v),bw,ys(0)-ys(v),d[2]);
   
   
   if(e>0){L(g,x,ys(v),x,ys(v+e),d[2],1);L(g,x-5,ys(v+e),x+5,ys(v+e),d[2],1);}
   if(d[4])T(g,'significance',d[4],x,ys(v+e)-2,7,{'text-anchor':'middle'});
  });
  L(g,c,y0,c,y0+3.5,'#222',1.2);
  T(g,'x-tick-label',ccPhases[i],c+3,y0+11,7.5,{'text-anchor':'end','font-weight':'bold',transform:`rotate(-40 ${c+3} ${y0+11})`});
 });
 if(legend){R(g,1352.4,521.5,18.2,6.5,'#1212ee');T(g,'legend-entry','NC',1381.7,528,10,{fill:'#111'});
  R(g,1442.5,521.5,18,6.5,'#ff0000');T(g,'legend-entry','ASO-50nM',1471.3,528,10,{fill:'#111'});}
}
cellCycle('lovo-cell-cycle-chart','LOVO',1263,504,1307,1565,522.4,650.3,80,lovoCcTicks,[1350,1435.3,1521.3],lovoCcNC,lovoCcNCErr,lovoCcASO,lovoCcASOErr,lovoCcSig,21.5,16.5,true);
cellCycle('sw480-cell-cycle-chart','SW480',1265,720,1303.5,1567,740.3,874.4,100,swCcTicks,[1343,1434.8,1526.5],swCcNC,swCcNCErr,swCcASO,swCcASOErr,swCcSig,22.5,17,false);
</script>
</body></html>
